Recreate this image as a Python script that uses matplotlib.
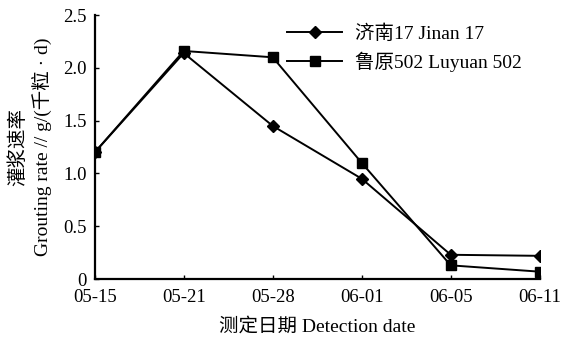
import numpy as np
import matplotlib.pyplot as plt

plt.rcParams['font.family'] = ['Liberation Serif', 'Noto Sans CJK SC']

# 数据
dates = ['05-15', '05-21', '05-28', '06-01', '06-05', '06-11']
jinan17 = [1.20, 2.14, 1.45, 0.95, 0.23, 0.22]
luyuan502 = [1.20, 2.16, 2.10, 1.10, 0.13, 0.07]
yticks = [0, 0.5, 1.0, 1.5, 2.0, 2.5]
ytick_labels = ['0', '0.5', '1.0', '1.5', '2.0', '2.5']

x = np.arange(len(dates))

fig = plt.figure(figsize=(5.64, 3.42), dpi=100)
ax = fig.add_axes([0.168, 0.184, 0.789, 0.772])

ax.plot(x, jinan17, color='black', lw=1.4, marker='D', ms=6, label='济南17 Jinan 17')
ax.plot(x, luyuan502, color='black', lw=1.4, marker='s', ms=7.5, label='鲁原502 Luyuan 502')

ax.set_xlim(0, 5)
ax.set_ylim(0, 2.5)
ax.set_xticks(x)
ax.set_xticklabels(dates)
ax.set_yticks(yticks)
ax.set_yticklabels(ytick_labels)
ax.tick_params(direction='in', length=3, width=1, labelsize=13.5)
ax.tick_params(axis='x', pad=7)
ax.tick_params(axis='y', pad=6)
ax.spines['top'].set_visible(False)
ax.spines['right'].set_visible(False)
ax.spines['left'].set_linewidth(1.6)
ax.spines['bottom'].set_linewidth(1.6)

ax.set_xlabel('测定日期 Detection date', fontsize=14, labelpad=9)
ax.set_ylabel('灌浆速率\nGrouting rate // g/(千粒 · d)', fontsize=14, labelpad=8,
              linespacing=1.3)

ax.legend(loc='upper right', bbox_to_anchor=(1.0, 1.03), frameon=False, fontsize=14,
          handlelength=2.8, handletextpad=0.7, labelspacing=0.45)

fig.savefig('out.png', dpi=100)
